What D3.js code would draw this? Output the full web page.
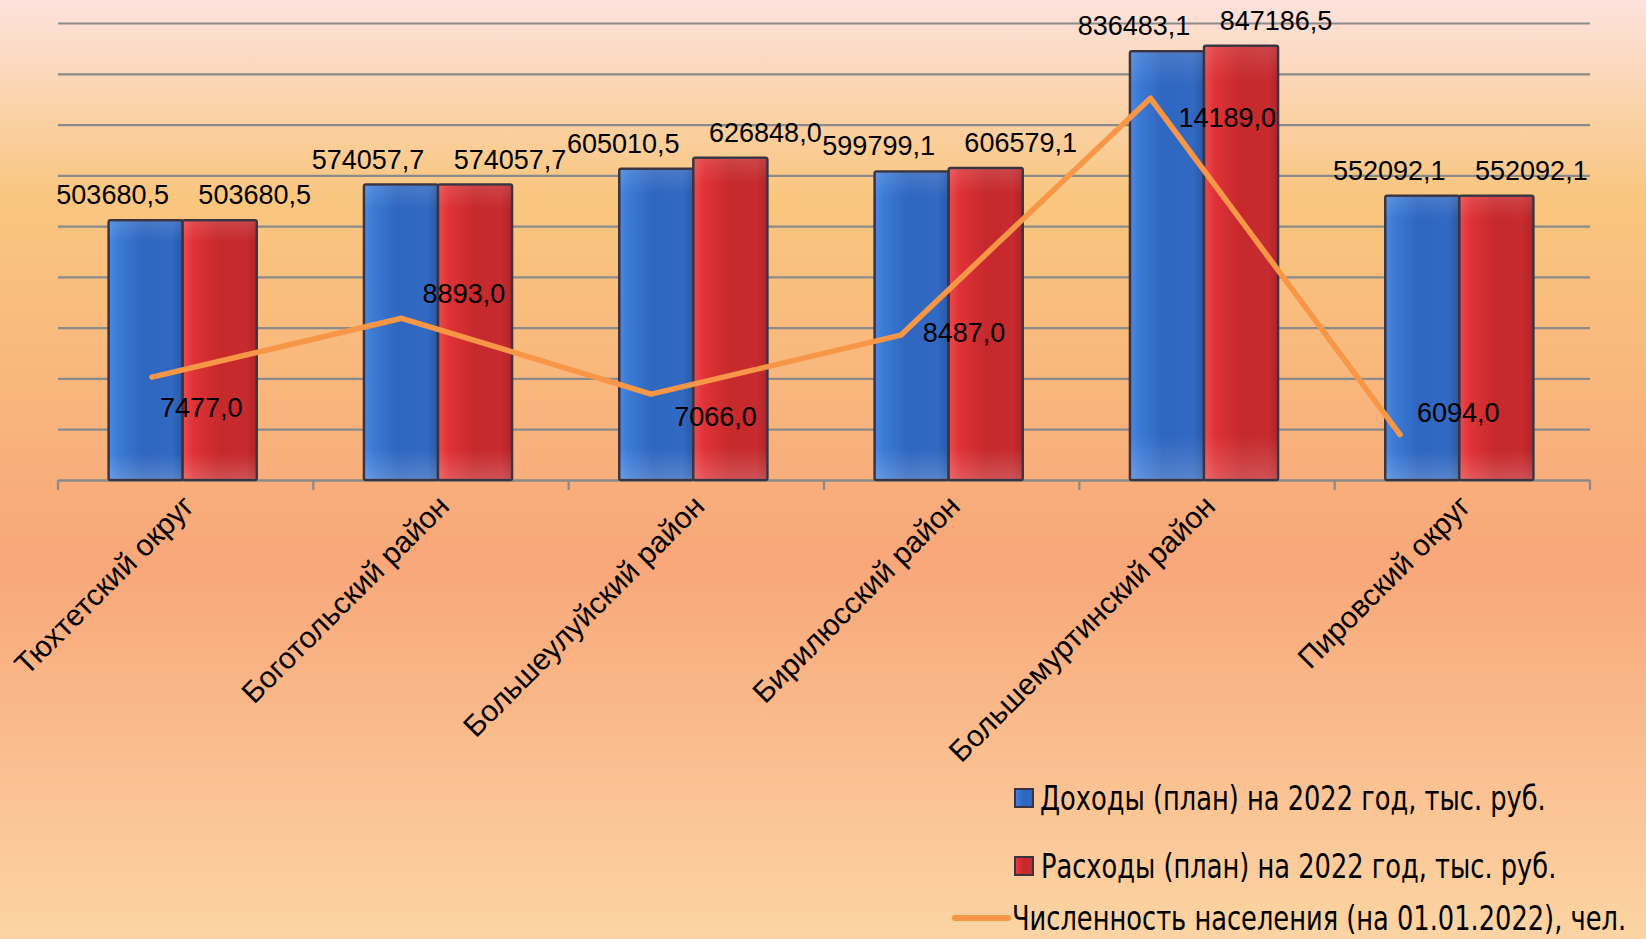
<!DOCTYPE html>
<html>
<head>
<meta charset="utf-8">
<script src="https://cdn.jsdelivr.net/npm/d3@7"></script>
<style>
  html, body { margin: 0; padding: 0; overflow: hidden; }
  svg { display: block; }
  .value-label { font-family: 'Liberation Sans', Arial, sans-serif; font-size: 27px; fill: #000; }
  .cat-label { font-family: 'Liberation Sans', Arial, sans-serif; font-size: 30px; fill: #000; }
  .legend-label { font-family: 'DejaVu Sans Condensed', 'DejaVu Sans', sans-serif; font-stretch: condensed; font-size: 34px; fill: #000; }
</style>
</head>
<body>
<svg></svg>
<script>
const W = 1646
const H = 939
const PLOT = { left: 58, right: 1590, top: 23, bottom: 480 }

// chart data
const categories = ['Тюхтетский округ', 'Боготольский район', 'Большеулуйский район', 'Бирилюсский район', 'Большемуртинский район', 'Пировский округ']
const incomePlan = [503680.5, 574057.7, 605010.5, 599799.1, 836483.1, 552092.1]
const expensePlan = [503680.5, 574057.7, 626848.0, 606579.1, 847186.5, 552092.1]
const population = [7477, 8893, 7066, 8487, 14189, 6094]
const seriesNames = ['Доходы (план) на 2022 год, тыс. руб.', 'Расходы (план) на 2022 год, тыс. руб.', 'Численность населения (на 01.01.2022), чел.']

// where the population labels sit relative to their point (layout only)
const popLabelNudge = [[8, 31], [21, -24], [23, 23], [22, -2], [28, 20], [17, -22]]

const fmt = v => d3.format('.1f')(v).replace('.', ',')

const svg = d3.select('svg').attr('width', W).attr('height', H)
const defs = svg.append('defs')

const bg = defs.append('linearGradient').attr('id', 'bg').attr('x1', 0).attr('y1', 0).attr('x2', 0).attr('y2', 1)
bg.selectAll('stop')
  .data([[0, '#fde2dd'], [0.21, '#f9c67f'], [0.6, '#f8a77a'], [1, '#fcd4a3']])
  .enter().append('stop')
  .attr('offset', d => d[0]).attr('stop-color', d => d[1])

function barGradient(id, stops) {
  const g = defs.append('linearGradient').attr('id', id).attr('x1', 0).attr('y1', 0).attr('x2', 1).attr('y2', 0)
  g.selectAll('stop').data(stops).enter().append('stop')
    .attr('offset', d => d[0]).attr('stop-color', d => d[1])
}
barGradient('blueBar', [[0, '#4d88dc'], [0.12, '#3b7bd6'], [0.45, '#2f66bf'], [0.85, '#3169c3'], [1, '#2b58a6']])
barGradient('redBar', [[0, '#e84a50'], [0.15, '#df3236'], [0.5, '#c6292c'], [0.85, '#c62b2f'], [1, '#b32328']])

const shade = defs.append('linearGradient').attr('id', 'shade').attr('x1', 0).attr('y1', 0).attr('x2', 0).attr('y2', 1)
shade.selectAll('stop')
  .data([[0, 'rgba(255,255,255,0.12)'], [0.08, 'rgba(255,255,255,0)'], [0.9, 'rgba(255,255,255,0)'], [1, 'rgba(255,255,255,0.18)']])
  .enter().append('stop')
  .attr('offset', d => d[0]).attr('stop-color', d => d[1])

svg.append('rect').attr('width', W).attr('height', H).attr('fill', 'url(#bg)')

// scales
const x = d3.scaleBand().domain(categories).range([PLOT.left, PLOT.right])
const groupW = x.bandwidth() * 0.58
const xInner = d3.scaleBand().domain([0, 1]).range([-groupW / 2 - 3, groupW / 2 - 3])
const y = d3.scaleLinear().domain([0, 900000]).range([PLOT.bottom, PLOT.top])
const xLine = d3.scalePoint().domain(categories).range([152, 1400])
const yLine = d3.scaleLinear().domain([5000, 16000]).range([PLOT.bottom, PLOT.top])

// grid
const gridAxis = d3.axisLeft(y).ticks(9).tickSize(-(PLOT.right - PLOT.left)).tickFormat('')
svg.append('g')
  .attr('transform', `translate(${PLOT.left},0)`)
  .call(gridAxis)
  .call(g => g.select('.domain').remove())
  .call(g => g.selectAll('line').attr('stroke', '#8a8a8a').attr('stroke-width', 2.2))

// category axis
const xAxis = d3.axisBottom(x).tickSize(0).tickFormat('')
svg.append('g')
  .attr('transform', `translate(0,${PLOT.bottom})`)
  .call(xAxis)
  .call(g => g.select('.domain').attr('stroke', '#8a8a8a').attr('stroke-width', 2.2))
  .call(g => g.selectAll('.tick').remove())
  .call(g => g.selectAll('.edge')
    .data(categories.map(c => x(c)).concat([x.range()[1]]))
    .enter().append('line')
    .attr('x1', d => d).attr('x2', d => d)
    .attr('y1', 0).attr('y2', 10)
    .attr('stroke', '#8a8a8a').attr('stroke-width', 2.2))

// bars
const rows = categories.map((c, i) => ({ cat: c, vals: [incomePlan[i], expensePlan[i]] }))
const fills = ['url(#blueBar)', 'url(#redBar)']
const groups = svg.append('g').selectAll('g')
  .data(rows).enter().append('g')
  .attr('transform', d => `translate(${x(d.cat) + x.bandwidth() / 2},0)`)

const bars = groups.selectAll('g.bar')
  .data(d => d.vals.map((v, k) => ({ v, k })))
  .enter().append('g').attr('class', 'bar')

bars.append('rect')
  .attr('x', d => xInner(d.k))
  .attr('y', d => y(d.v) - 4)
  .attr('width', xInner.bandwidth())
  .attr('height', d => y(0) - y(d.v) + 4)
  .attr('fill', d => fills[d.k])
  .attr('stroke', '#3a3340')
  .attr('stroke-width', 2.5)
  .attr('rx', 2)
bars.append('rect')
  .attr('x', d => xInner(d.k) + 1)
  .attr('y', d => y(d.v) - 3)
  .attr('width', xInner.bandwidth() - 2)
  .attr('height', d => y(0) - y(d.v) + 2)
  .attr('fill', 'url(#shade)')

bars.append('text')
  .attr('class', 'value-label')
  .attr('x', d => xInner(d.k) + xInner.bandwidth() / 2 + (d.k === 0 ? -33 : 35))
  .attr('y', d => y(d.v) - 29)
  .attr('text-anchor', 'middle')
  .attr('dominant-baseline', 'central')
  .text(d => fmt(d.v))

// population line
const line = d3.line().x((d, i) => xLine(categories[i])).y(d => yLine(d))
svg.append('path')
  .datum(population)
  .attr('d', line)
  .attr('fill', 'none')
  .attr('stroke', '#f79646')
  .attr('stroke-width', 5.5)
  .attr('stroke-linejoin', 'round')
  .attr('stroke-linecap', 'round')

svg.append('g').selectAll('text')
  .data(population).enter().append('text')
  .attr('class', 'value-label')
  .attr('x', (d, i) => xLine(categories[i]) + popLabelNudge[i][0])
  .attr('y', (d, i) => yLine(d) + popLabelNudge[i][1])
  .attr('dominant-baseline', 'central')
  .text(d => fmt(d))

// category labels
svg.append('g').selectAll('text')
  .data(categories).enter().append('text')
  .attr('class', 'cat-label')
  .attr('text-anchor', 'end')
  .attr('transform', d => `translate(${x(d) + x.bandwidth() / 2 + 10},${PLOT.bottom + 28}) rotate(-45)`)
  .text(d => d)

// legend
const legend = svg.append('g')
const legendRows = [
  { y: 798, keyX: 1015, textX: 1040, type: 'rect', fill: 'url(#blueBar)' },
  { y: 866, keyX: 1015, textX: 1041, type: 'rect', fill: 'url(#redBar)' },
  { y: 918, keyX: 955, textX: 1012, type: 'line' }
]
const legendTexts = []
legendRows.forEach((r, i) => {
  if (r.type === 'rect') {
    legend.append('rect')
      .attr('x', r.keyX).attr('y', r.y - 9).attr('width', 18).attr('height', 18)
      .attr('fill', r.fill).attr('stroke', '#3a3340').attr('stroke-width', 2)
  } else {
    legend.append('line')
      .attr('x1', r.keyX).attr('x2', r.keyX + 53).attr('y1', r.y).attr('y2', r.y)
      .attr('stroke', '#f79646').attr('stroke-width', 6).attr('stroke-linecap', 'round')
  }
  legendTexts.push(legend.append('text')
    .attr('class', 'legend-label')
    .attr('transform', `translate(${r.textX},${r.y})`)
    .attr('dominant-baseline', 'central')
    .text(seriesNames[i]))
})
// the original legend font is a narrow face; squeeze horizontally to the same width
const squeeze = 506 / legendTexts[0].node().getComputedTextLength()
legendTexts.forEach((t, i) => {
  t.attr('transform', `translate(${legendRows[i].textX},${legendRows[i].y}) scale(${squeeze},1)`)
})
</script>
</body>
</html>
